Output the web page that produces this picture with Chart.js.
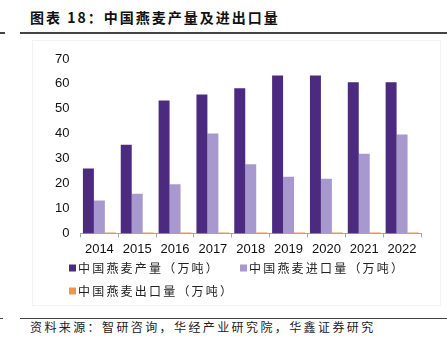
<!doctype html>
<html>
	<head>
		<meta charset="utf-8" />
		<title>中国燕麦产量及进出口量</title>
		<script src="https://cdn.jsdelivr.net/npm/chart.js@4/dist/chart.umd.min.js"></script>
		<style>
			html,
			body {
				margin: 0;
				padding: 0;
				background: #fff;
			}

			body {
				position: relative;
				width: 447px;
				height: 344px;
				overflow: hidden;
				font-family: "Noto Sans CJK SC", sans-serif;
				color: #111;
			}

			.title {
				position: absolute;
				left: 30px;
				top: 7px;
				font-size: 14px;
				font-weight: bold;
				letter-spacing: 2px;
				white-space: nowrap;
			}

			.rule {
				position: absolute;
				height: 1.5px;
				background: #444;
			}

			.source {
				position: absolute;
				left: 30px;
				top: 318px;
				font-size: 12px;
				letter-spacing: 2.4px;
				white-space: nowrap;
				color: #222;
			}

			.frame {
				position: absolute;
				left: 32px;
				top: 40px;
				width: 407px;
				height: 264px;
				border: 1px solid #f2f2f2;
			}

			#chartJSContainer {
				position: absolute;
				left: 0;
				top: 40px;
			}
		</style>
	</head>

	<body>
		<div class="title">图表 18：中国燕麦产量及进出口量</div>
		<div class="rule" style="left: 20px; top: 32px; width: 427px"></div>
		<div class="rule" style="left: 0; top: 32px; width: 5px"></div>
		<div class="frame"></div>
		<canvas id="chartJSContainer" width="447" height="265"></canvas>
		<div class="rule" style="left: 20px; top: 318px; width: 427px; height: 1px"></div>
		<div class="rule" style="left: 0; top: 318px; width: 3px; height: 1px"></div>
		<div class="source">资料来源：智研咨询，华经产业研究院，华鑫证券研究</div>

		<script>
			// values (万吨)
			const years = ["2014", "2015", "2016", "2017", "2018", "2019", "2020", "2021", "2022"];
			const output = [26.0, 35.6, 53.3, 55.8, 58.3, 63.4, 63.4, 60.7, 60.7];
			const imports = [13.2, 15.9, 19.7, 40.1, 27.8, 22.7, 21.9, 32.0, 39.7];
			const exports = [0.4, 0.4, 0.4, 0.4, 0.4, 0.4, 0.4, 0.4, 0.4];
			const seriesNames = ["中国燕麦产量（万吨）", "中国燕麦进口量（万吨）", "中国燕麦出口量（万吨）"];
			const yTicks = [0, 10, 20, 30, 40, 50, 60, 70];

			const colors = ["#4b2a80", "#a798cd", "#f39343"];

			// legend drawn by hand so the wide CJK spacing of the original can be kept
			const legendSpots = [
				{ x: 69, y: 228 },
				{ x: 240, y: 228 },
				{ x: 69, y: 251 },
			];
			const spacedLegend = {
				id: "spacedLegend",
				afterDraw(chart) {
					const ctx = chart.ctx;
					ctx.save();
					ctx.font = "12px 'Noto Sans CJK SC'";
					ctx.letterSpacing = "2.2px";
					ctx.textBaseline = "middle";
					chart.data.datasets.forEach((ds, i) => {
						const spot = legendSpots[i];
						ctx.fillStyle = ds.backgroundColor;
						ctx.fillRect(spot.x, spot.y - 3.5, 7, 7);
						ctx.fillStyle = "#222";
						ctx.fillText(ds.label, spot.x + 9, spot.y + 0.5);
					});
					ctx.restore();
				},
			};

			const ctx = document.getElementById("chartJSContainer").getContext("2d");
			new Chart(ctx, {
				type: "bar",
				data: {
					labels: years,
					datasets: [output, imports, exports].map((values, i) => ({
						label: seriesNames[i],
						data: values,
						backgroundColor: colors[i],
						categoryPercentage: 0.87,
						barPercentage: 1,
					})),
				},
				options: {
					responsive: false,
					animation: false,
					layout: { padding: { left: 44, right: 26, top: 19, bottom: 44 } },
					plugins: {
						legend: { display: false },
						tooltip: { enabled: false },
					},
					scales: {
						x: {
							grid: {
								drawOnChartArea: false,
								tickLength: 4,
								color: "#a6a6a6",
							},
							border: { color: "#a6a6a6" },
							ticks: {
								padding: 4,
								color: "#111",
								font: { family: "'Liberation Sans', Arial", size: 13 },
							},
						},
						y: {
							min: 0,
							max: 70,
							afterBuildTicks(scale) {
								scale.ticks = yTicks.map((v) => ({ value: v }));
							},
							grid: { display: false, drawTicks: false },
							border: { display: false },
							ticks: {
								padding: 11,
								color: "#111",
								font: { family: "'Liberation Sans', Arial", size: 13 },
							},
						},
					},
				},
				plugins: [spacedLegend],
			});
		</script>
	</body>
</html>
